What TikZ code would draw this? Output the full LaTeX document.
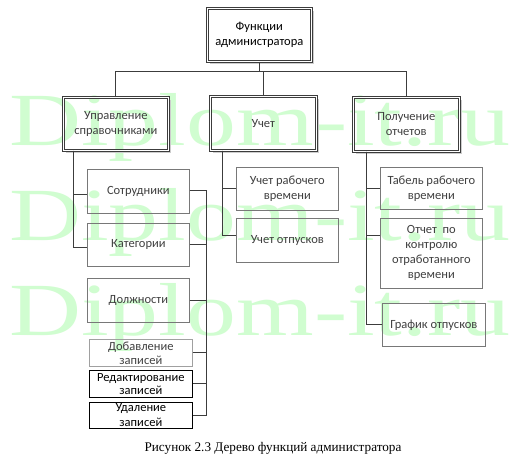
\documentclass[tikz,border=0pt]{standalone}
\usepackage{fontspec}
\setmainfont{Carlito}
\newfontfamily\capfont{Liberation Serif}
\definecolor{wm}{RGB}{208,253,208}
\definecolor{ln}{RGB}{60,60,60}
\definecolor{bx}{RGB}{120,120,120}
\definecolor{tx}{RGB}{64,64,64}
\definecolor{shd}{RGB}{205,205,205}
\begin{document}
\begin{tikzpicture}[x=1pt,y=-1pt,
  lbl/.style={font=\fontsize{12.5}{15}\selectfont, align=center, text=tx},
  box/.style={draw=bx, line width=0.7pt, anchor=north west, inner sep=0pt, lbl},
  dbox/.style={draw=ln, double, double distance=1.3pt, line width=0.6pt, anchor=north west, inner sep=0pt, lbl},
  conn/.style={draw=ln, line width=0.9pt},
  wmark/.style={anchor=base west, inner sep=0pt, text=wm, font=\capfont\fontsize{75}{75}\selectfont},
  shadowline/.style={draw=shd, line width=1.6pt}]
\fill[white] (0,0) rectangle (514,460);
\useasboundingbox (0,0) rectangle (514,460);
% watermark
\node[wmark] (w1) at (9,145) {\scalebox{1.33}[1]{Diplom-it.ru}};
\node[wmark] (w2) at (9,240) {\scalebox{1.33}[1]{Diplom-it.ru}};
\node[wmark] (w3) at (9,335) {\scalebox{1.33}[1]{Diplom-it.ru}};
% shadows of the top boxes
\draw[shadowline] (313,11) -- (313,63) -- (210,63);
\draw[shadowline] (170,100) -- (170,152) -- (66,152);
\draw[shadowline] (318,99) -- (318,152) -- (213,152);
\draw[shadowline] (461,100) -- (461,153) -- (356,153);
% top level
\node[dbox, minimum width=104pt, minimum height=53pt, text=black] (top) at (207,8) {Функции\\администратора};
\node[dbox, minimum width=105pt, minimum height=53pt] (A) at (63,97) {Управление\\справочниками};
\node[dbox, minimum width=106pt, minimum height=54pt] (B) at (210,96) {Учет};
\node[dbox, minimum width=106pt, minimum height=54pt] (C) at (353,97) {Получение\\отчетов};
% A children
\node[box, minimum width=102pt, minimum height=44pt] (S1) at (87,169) {Сотрудники};
\node[box, minimum width=102pt, minimum height=43pt] (S2) at (87,223) {Категории};
\node[box, minimum width=102pt, minimum height=44pt] (S3) at (87,278) {Должности};
\node[box, draw=bx!70, minimum width=103pt, minimum height=27pt, font=\fontsize{12.5}{14}\selectfont] (S4) at (89,339) {Добавление\\записей};
\node[box, draw=black, text=black, minimum width=103pt, minimum height=27pt, font=\fontsize{12.5}{13.5}\selectfont] (S5) at (89,370) {Редактирование\\записей};
\node[box, draw=black, text=black, minimum width=103pt, minimum height=26pt, font=\fontsize{12.5}{15}\selectfont] (S6) at (89,402) {Удаление\\записей};
% B children
\node[box, minimum width=102pt, minimum height=43pt] (U1) at (236,167) {Учет рабочего\\времени};
\node[box, minimum width=102pt, minimum height=44pt] (U2) at (236,218) {Учет отпусков};
% C children
\node[box, minimum width=102pt, minimum height=42pt] (T1) at (380,167) {Табель рабочего\\времени};
\node[box, minimum width=102pt, minimum height=70pt] (T2) at (380,218) {Отчет\ \ по\\контролю\\отработанного\\времени};
\node[box, minimum width=103pt, minimum height=43pt] (T3) at (382,303) {График отпусков};
% caption
\node[font=\capfont\fontsize{13.2}{15}\selectfont, inner sep=0pt] (cap) at (273,448) {Рисунок 2.3 Дерево функций администратора};
% connectors: top bus
\draw[conn] (top.south) -- ++(0,10) coordinate (bus);
\draw[conn] (A.north) |- (bus) -| (C.north);
\draw[conn] (B.north) -- (B.north |- bus);
% A left side
\coordinate (a0) at ([xshift=10pt]A.south west);
\draw[conn] (a0) |- ([yshift=-3pt]S1.west);
\draw[conn] (a0) |- ([yshift=-2.5pt]S2.west);
% A right bracket
\coordinate (rb) at (206,0);
\draw[conn] ([yshift=1pt]S1.east) -- ([yshift=1pt]S1.east -| rb) -- (S6.east -| rb) -- (S6.east);
\draw[conn] (S2.east) -- (S2.east -| rb);
\draw[conn] (S3.east) -- (S3.east -| rb);
\draw[conn] (S4.east) -- (S4.east -| rb);
\draw[conn] (S5.east) -- (S5.east -| rb);
% B children
\coordinate (b0) at ([xshift=12pt]B.south west);
\draw[conn] (b0) |- (U1.west);
\draw[conn] (b0) |- ([yshift=5pt]U2.west);
% C children
\coordinate (c0) at ([xshift=13pt]C.south west);
\draw[conn] (c0) |- (T1.west);
\draw[conn] (c0) |- ([yshift=18pt]T2.west);
\draw[conn] (c0) |- (T3.west);
\end{tikzpicture}
\end{document}
